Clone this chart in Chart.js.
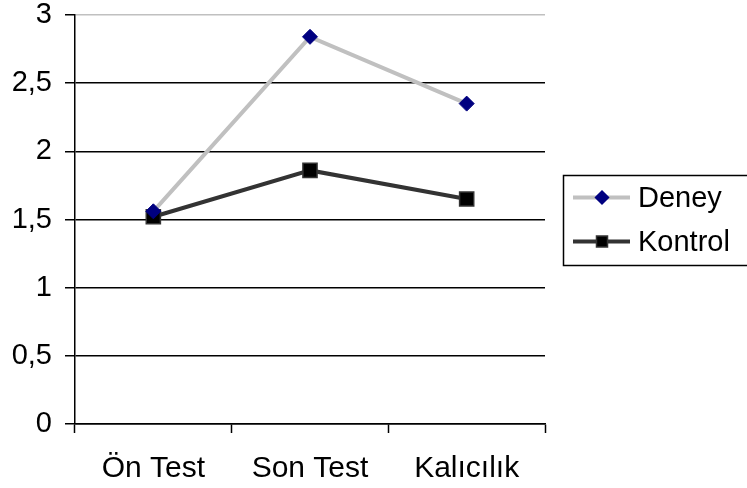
<!DOCTYPE html>
<html>
<head>
<meta charset="utf-8">
<script src="https://cdn.jsdelivr.net/npm/chart.js@4/dist/chart.umd.min.js"></script>
<style>
  html, body { margin: 0; padding: 0; background: #ffffff; }
  #wrap { width: 747px; height: 488px; position: relative; }
</style>
</head>
<body>
<div id="wrap"><canvas id="c" width="747" height="488"></canvas></div>
<script>
const categories = ['Ön Test', 'Son Test', 'Kalıcılık'];
const deneyValues = [1.56, 2.84, 2.35];
const kontrolValues = [1.52, 1.86, 1.65];
const seriesNames = ['Deney', 'Kontrol'];
const yTickMin = 0, yTickMax = 3, yTickStep = 0.5;

const FONT = '"Liberation Sans", Arial, sans-serif';

const boxLegend = {
  id: 'boxLegend',
  afterDraw(chart) {
    const ctx = chart.ctx;
    const x0 = 563.5, y0 = 175.5, w = 190, h = 90;
    ctx.save();
    ctx.strokeStyle = '#000';
    ctx.lineWidth = 1.5;
    ctx.strokeRect(x0, y0, w, h);
    const rows = [197.5, 241.5];
    chart.data.datasets.forEach((ds, i) => {
      const y = rows[i];
      ctx.strokeStyle = ds.borderColor;
      ctx.lineWidth = 4;
      ctx.beginPath();
      ctx.moveTo(573, y);
      ctx.lineTo(630, y);
      ctx.stroke();
      ctx.fillStyle = ds.pointBackgroundColor;
      ctx.strokeStyle = ds.pointBorderColor;
      ctx.lineWidth = 1.5;
      ctx.beginPath();
      if (ds.pointStyle === 'rect') {
        ctx.rect(602 - 5.5, y - 5.5, 11, 11);
      } else {
        ctx.moveTo(602, y - 6.5); ctx.lineTo(608.5, y); ctx.lineTo(602, y + 6.5); ctx.lineTo(595.5, y); ctx.closePath();
      }
      ctx.fill();
      ctx.stroke();
      ctx.fillStyle = '#000';
      ctx.font = '29px ' + FONT;
      ctx.textBaseline = 'middle';
      ctx.textAlign = 'left';
      ctx.fillText(ds.label, 638, y + 1);
    });
    ctx.restore();
  }
};

new Chart(document.getElementById('c'), {
  type: 'line',
  data: {
    labels: categories,
    datasets: [
      {
        label: seriesNames[0],
        data: deneyValues,
        borderColor: '#c0c0c0',
        borderWidth: 4,
        pointStyle: 'rectRot',
        pointRadius: 7.5,
        pointBackgroundColor: '#000080',
        pointBorderColor: '#000080',
        pointBorderWidth: 1,
        tension: 0,
        fill: false
      },
      {
        label: seriesNames[1],
        data: kontrolValues,
        borderColor: '#333333',
        borderWidth: 4,
        pointStyle: 'rect',
        pointRadius: 10,
        pointBackgroundColor: '#000000',
        pointBorderColor: '#333333',
        pointBorderWidth: 1.5,
        tension: 0,
        fill: false
      }
    ]
  },
  options: {
    responsive: false,
    animation: false,
    devicePixelRatio: 1,
    layout: { padding: { left: 0, top: 15, right: 202, bottom: 0 } },
    plugins: { legend: { display: false }, tooltip: { enabled: false } },
    scales: {
      x: {
        offset: true,
        afterFit: (s) => { s.height = 64; s.paddingLeft = 0; s.paddingRight = 0; },
        grid: { offset: true, drawOnChartArea: false, drawTicks: true, tickLength: 9, tickColor: '#000', tickWidth: 1.5 },
        border: { display: true, color: '#000', width: 1.5 },
        ticks: { color: '#000', padding: 18, font: { family: FONT, size: 30 }, maxRotation: 0, autoSkip: false }
      },
      y: {
        min: yTickMin,
        max: yTickMax,
        afterFit: (s) => { s.width = 75; s.paddingTop = 0; s.paddingBottom = 0; },
        grid: {
          color: (c) => (c.tick && c.tick.value === yTickMax) ? '#c0c0c0' : '#000',
          lineWidth: 1.5,
          drawTicks: true,
          tickLength: 10,
          tickColor: '#000',
          tickWidth: 1.5
        },
        border: { display: true, color: '#000', width: 1.5 },
        ticks: {
          stepSize: yTickStep,
          color: '#000',
          padding: 13,
          font: { family: FONT, size: 29 },
          callback: (v) => String(v).replace('.', ',')
        }
      }
    }
  },
  plugins: [boxLegend]
});
</script>
</body>
</html>
